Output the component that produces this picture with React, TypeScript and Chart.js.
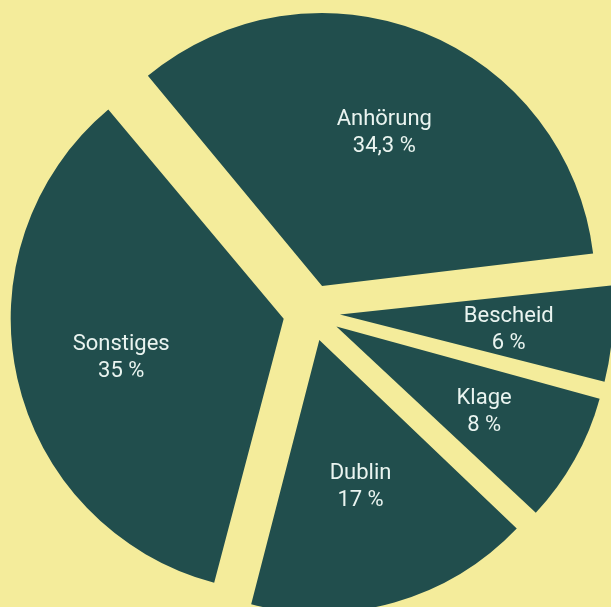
import React, { useEffect, useRef } from "react";
import { Chart, registerables } from "chart.js";

Chart.register(...registerables);

// Data
const categories = ["Anhörung", "Bescheid", "Klage", "Dublin", "Sonstiges"];
const shares = [34.3, 6, 8, 17, 35];

// Label distance from each slice's tip, as a fraction of the radius
const labelDistance = [0.615, 0.62, 0.62, 0.55, 0.61];

const BG = "#f4ec9b";
const SLICE = "#214e4d";
const TEXT = "#eaf4f0";

const fmt = (v: number) => String(v).replace(".", ",") + " %";

const equalRadiusPlugin = {
  id: "equalRadius",
  beforeDatasetsDraw(chart: any) {
    const meta = chart.getDatasetMeta(0);
    const base = meta.controller.outerRadius;
    meta.data.forEach((arc: any) => {
      const circ = arc.endAngle - arc.startAngle;
      const fix = 1 - Math.sin(Math.min(Math.PI, circ));
      const off = (arc.options.offset || 0) / 4;
      arc.outerRadius = base - off * fix;
    });
  },
};

const sliceLabelPlugin = {
  id: "sliceLabels",
  afterDatasetsDraw(chart: any) {
    const meta = chart.getDatasetMeta(0);
    const base = meta.controller.outerRadius;
    const ctx = chart.ctx;
    ctx.save();
    ctx.fillStyle = TEXT;
    ctx.font = "22px Roboto";
    ctx.textAlign = "center";
    ctx.textBaseline = "middle";
    const lineH = 27;
    meta.data.forEach((arc: any, i: number) => {
      const mid = (arc.startAngle + arc.endAngle) / 2;
      const off = (arc.options.offset || 0) / 4;
      const d = off + labelDistance[i] * base;
      const lx = arc.x + Math.cos(mid) * d;
      const ly = arc.y + Math.sin(mid) * d + 3;
      ctx.fillText(categories[i], lx, ly - lineH / 2);
      ctx.fillText(fmt(shares[i]), lx, ly + lineH / 2);
    });
    ctx.restore();
  },
};

export default function App() {
  const ref = useRef<HTMLCanvasElement | null>(null);
  useEffect(() => {
    if (!ref.current) return;
    const chart = new Chart(ref.current, {
      type: "pie",
      data: {
        labels: categories,
        datasets: [
          {
            data: shares,
            backgroundColor: SLICE,
            borderWidth: 0,
            offset: 114,
            clip: false as any,
          },
        ],
      },
      options: {
        responsive: false,
        animation: false,
        devicePixelRatio: 1,
        rotation: -39.8,
        radius: 273,
        layout: { padding: { left: 12, top: 18, right: 0, bottom: 0 } },
        plugins: {
          legend: { display: false },
          tooltip: { enabled: false },
        },
        events: [],
      } as any,
      plugins: [equalRadiusPlugin, sliceLabelPlugin],
    });
    return () => chart.destroy();
  }, []);
  return (
    <div
      style={{
        position: "fixed",
        left: 0,
        top: 0,
        width: 611,
        height: 607,
        overflow: "hidden",
        background: BG,
      }}
    >
      <canvas ref={ref} width={611} height={607} style={{ display: "block" }} />
    </div>
  );
}
